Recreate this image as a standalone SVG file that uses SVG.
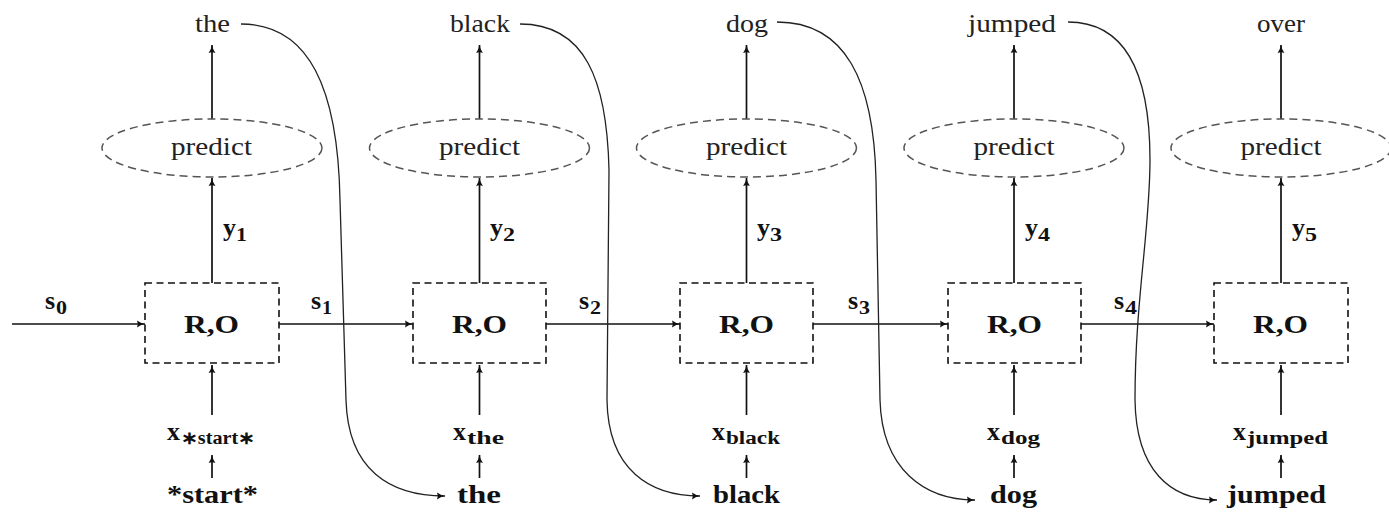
<svg xmlns="http://www.w3.org/2000/svg" width="1389" height="513" viewBox="0 0 1389 513">
<style>
.reg{font-family:"Liberation Serif",serif;font-size:26px;fill:#222}
.bold{font-family:"Liberation Serif",serif;font-size:26px;font-weight:bold;fill:#111}
.sub{font-family:"Liberation Serif",serif;font-size:18px;font-weight:bold;fill:#111}
.box{fill:none;stroke:#111;stroke-width:1.6;stroke-dasharray:7 4.5}
.ell{fill:none;stroke:#555;stroke-width:1.5;stroke-dasharray:8 5}
.arr{fill:none;stroke:#111;stroke-width:1.7;marker-end:url(#ah)}
.cur{fill:none;stroke:#222;stroke-width:1.3;marker-end:url(#ah)}
</style>
<defs>
<marker id="ah" markerUnits="userSpaceOnUse" markerWidth="12" markerHeight="10" refX="8" refY="4" orient="auto">
<path d="M0,0.6 Q3.5,3.2 8,4 Q3.5,4.8 0,7.4 Q1.6,4 0,0.6 z" fill="#111"/>
</marker>
</defs>
<rect width="1389" height="513" fill="#fff"/>

<g id="connectors">
<line class="arr" x1="12" y1="324" x2="145" y2="324"/>
<line class="arr" x1="279" y1="324" x2="413" y2="324"/>
<line class="arr" x1="546" y1="324" x2="680" y2="324"/>
<line class="arr" x1="813" y1="324" x2="948" y2="324"/>
<line class="arr" x1="1081" y1="324" x2="1214" y2="324"/>
<g id="vert">
<line class="arr" x1="212" y1="283" x2="212" y2="178"/>
<line class="arr" x1="212" y1="119" x2="212" y2="45"/>
<line class="arr" x1="212" y1="415" x2="212" y2="365"/>
<line class="arr" x1="212" y1="478" x2="212" y2="455"/>
<line class="arr" x1="479.5" y1="283" x2="479.5" y2="178"/>
<line class="arr" x1="479.5" y1="119" x2="479.5" y2="45"/>
<line class="arr" x1="479.5" y1="415" x2="479.5" y2="365"/>
<line class="arr" x1="479.5" y1="478" x2="479.5" y2="455"/>
<line class="arr" x1="746.5" y1="283" x2="746.5" y2="178"/>
<line class="arr" x1="746.5" y1="119" x2="746.5" y2="45"/>
<line class="arr" x1="746.5" y1="415" x2="746.5" y2="365"/>
<line class="arr" x1="746.5" y1="478" x2="746.5" y2="455"/>
<line class="arr" x1="1014" y1="283" x2="1014" y2="178"/>
<line class="arr" x1="1014" y1="119" x2="1014" y2="45"/>
<line class="arr" x1="1014" y1="415" x2="1014" y2="365"/>
<line class="arr" x1="1014" y1="478" x2="1014" y2="455"/>
<line class="arr" x1="1281" y1="283" x2="1281" y2="178"/>
<line class="arr" x1="1281" y1="119" x2="1281" y2="45"/>
<line class="arr" x1="1281" y1="415" x2="1281" y2="365"/>
<line class="arr" x1="1281" y1="478" x2="1281" y2="455"/>
</g>
<path class="cur" d="M241,24 C310,24 338,90 340,200 L346,400 C348,470 390,496 445,496"/>
<path class="cur" d="M520,24 C585,24 607,80 609,170 L607,400 C608,470 650,496 700,496"/>
<path class="cur" d="M777,22 C845,22 874,80 876,180 L880,400 C882,470 925,500 975,500"/>
<path class="cur" d="M1068,22 C1130,22 1150,80 1150,160 C1150,230 1135,300 1135,400 C1136,470 1170,500 1217,500"/>
</g>

<g id="state-labels">
<text class="bold" x="45" y="309">s</text><text class="sub" x="56" y="314" textLength="11" lengthAdjust="spacingAndGlyphs">0</text>
<text class="bold" x="311" y="309">s</text><text class="sub" x="322" y="314" textLength="10" lengthAdjust="spacingAndGlyphs">1</text>
<text class="bold" x="579" y="309">s</text><text class="sub" x="590" y="314" textLength="11" lengthAdjust="spacingAndGlyphs">2</text>
<text class="bold" x="848" y="309">s</text><text class="sub" x="859" y="314" textLength="11" lengthAdjust="spacingAndGlyphs">3</text>
<text class="bold" x="1114" y="309">s</text><text class="sub" x="1125" y="314" textLength="12" lengthAdjust="spacingAndGlyphs">4</text>
</g>

<g id="step1">
<text class="reg" x="195" y="32" textLength="35" lengthAdjust="spacingAndGlyphs">the</text>
<g id="predict1"><ellipse class="ell" cx="212" cy="148" rx="110" ry="29"/><text class="reg" x="171" y="155" textLength="81" lengthAdjust="spacingAndGlyphs">predict</text></g>
<text class="bold" x="223" y="236">y</text><text class="sub" x="236" y="241" textLength="11" lengthAdjust="spacingAndGlyphs">1</text>
<g id="ro1"><rect class="box" x="145" y="283" width="134" height="80"/><text class="bold" x="184" y="333" textLength="55" lengthAdjust="spacingAndGlyphs">R,O</text></g>
<text class="bold" x="167" y="440">x</text><text class="sub" x="181" y="444" textLength="74" lengthAdjust="spacingAndGlyphs">∗start∗</text>
<text class="bold" x="167" y="503" textLength="91" lengthAdjust="spacingAndGlyphs">*start*</text>
</g>

<g id="step2">
<text class="reg" x="450" y="32" textLength="60" lengthAdjust="spacingAndGlyphs">black</text>
<g id="predict2"><ellipse class="ell" cx="479.5" cy="148" rx="110" ry="29"/><text class="reg" x="439" y="155" textLength="81" lengthAdjust="spacingAndGlyphs">predict</text></g>
<text class="bold" x="490" y="236">y</text><text class="sub" x="503" y="241" textLength="12" lengthAdjust="spacingAndGlyphs">2</text>
<g id="ro2"><rect class="box" x="413" y="283" width="133" height="80"/><text class="bold" x="452" y="333" textLength="55" lengthAdjust="spacingAndGlyphs">R,O</text></g>
<text class="bold" x="453" y="440">x</text><text class="sub" x="467" y="444" textLength="37" lengthAdjust="spacingAndGlyphs">the</text>
<text class="bold" x="457" y="503" textLength="44" lengthAdjust="spacingAndGlyphs">the</text>
</g>

<g id="step3">
<text class="reg" x="726" y="32" textLength="42" lengthAdjust="spacingAndGlyphs">dog</text>
<g id="predict3"><ellipse class="ell" cx="746.5" cy="148" rx="110" ry="29"/><text class="reg" x="706" y="155" textLength="81" lengthAdjust="spacingAndGlyphs">predict</text></g>
<text class="bold" x="757" y="236">y</text><text class="sub" x="770" y="241" textLength="12" lengthAdjust="spacingAndGlyphs">3</text>
<g id="ro3"><rect class="box" x="680" y="283" width="133" height="80"/><text class="bold" x="719" y="333" textLength="55" lengthAdjust="spacingAndGlyphs">R,O</text></g>
<text class="bold" x="712" y="440">x</text><text class="sub" x="726" y="444" textLength="54" lengthAdjust="spacingAndGlyphs">black</text>
<text class="bold" x="713" y="503" textLength="67" lengthAdjust="spacingAndGlyphs">black</text>
</g>

<g id="step4">
<text class="reg" x="968" y="32" textLength="88" lengthAdjust="spacingAndGlyphs">jumped</text>
<g id="predict4"><ellipse class="ell" cx="1014" cy="148" rx="110" ry="29"/><text class="reg" x="973.5" y="155" textLength="81" lengthAdjust="spacingAndGlyphs">predict</text></g>
<text class="bold" x="1025" y="236">y</text><text class="sub" x="1038" y="241" textLength="12" lengthAdjust="spacingAndGlyphs">4</text>
<g id="ro4"><rect class="box" x="948" y="283" width="133" height="80"/><text class="bold" x="987" y="333" textLength="55" lengthAdjust="spacingAndGlyphs">R,O</text></g>
<text class="bold" x="987" y="440">x</text><text class="sub" x="1001" y="444" textLength="39" lengthAdjust="spacingAndGlyphs">dog</text>
<text class="bold" x="990" y="503" textLength="47" lengthAdjust="spacingAndGlyphs">dog</text>
</g>

<g id="step5">
<text class="reg" x="1257" y="32" textLength="48" lengthAdjust="spacingAndGlyphs">over</text>
<g id="predict5"><ellipse class="ell" cx="1281" cy="148" rx="110" ry="29"/><text class="reg" x="1240.5" y="155" textLength="81" lengthAdjust="spacingAndGlyphs">predict</text></g>
<text class="bold" x="1292" y="236">y</text><text class="sub" x="1305" y="241" textLength="12" lengthAdjust="spacingAndGlyphs">5</text>
<g id="ro5"><rect class="box" x="1214" y="283" width="134" height="80"/><text class="bold" x="1253" y="333" textLength="55" lengthAdjust="spacingAndGlyphs">R,O</text></g>
<text class="bold" x="1233" y="440">x</text><text class="sub" x="1247" y="444" textLength="81" lengthAdjust="spacingAndGlyphs">jumped</text>
<text class="bold" x="1227" y="503" textLength="99" lengthAdjust="spacingAndGlyphs">jumped</text>
</g>
</svg>
